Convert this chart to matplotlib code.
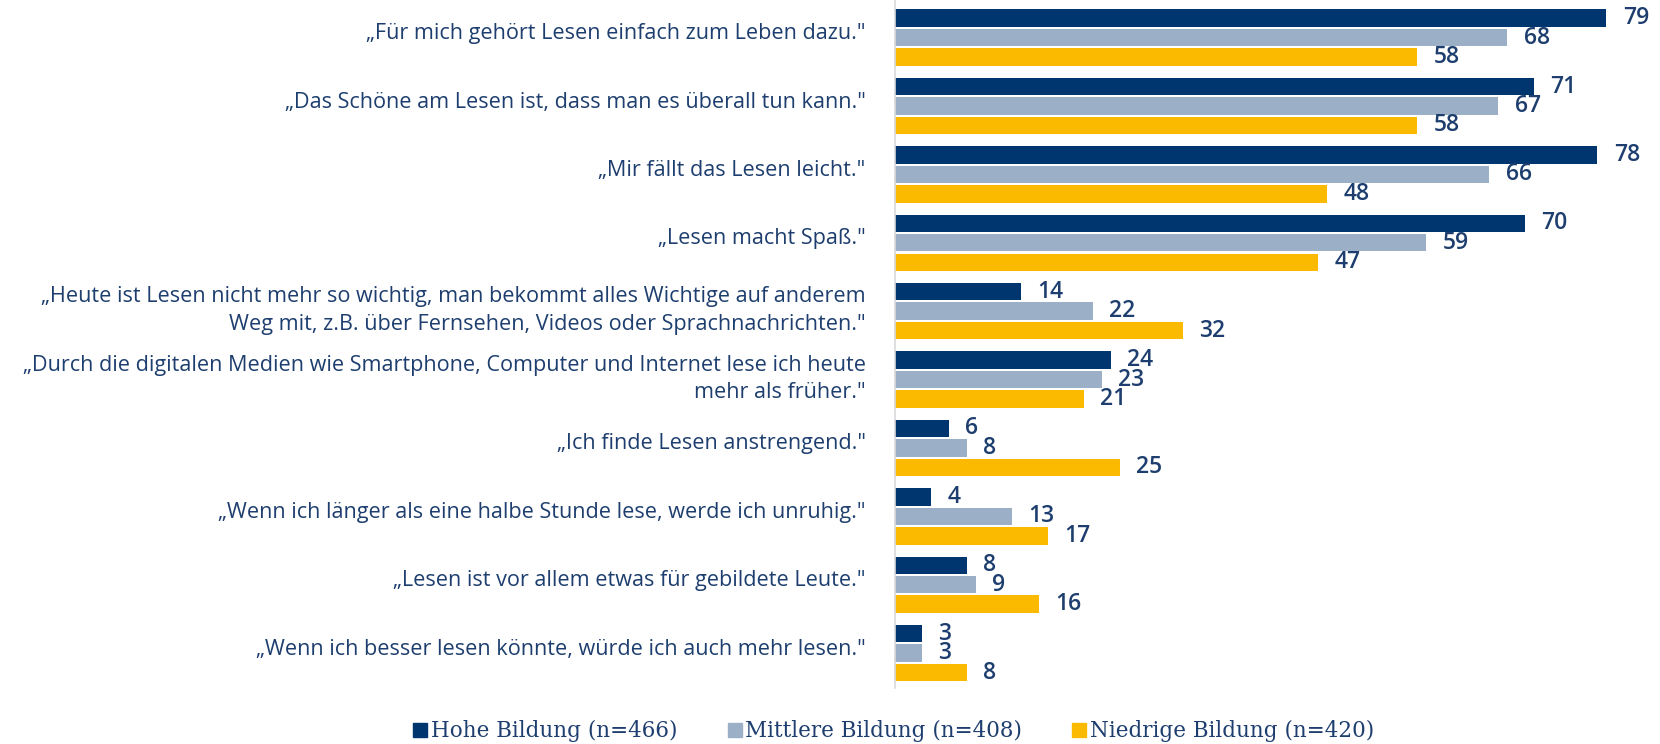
import matplotlib.pyplot as plt
import matplotlib.transforms as mtransforms
import numpy as np
from matplotlib.lines import Line2D

# Aussagen (Kategorien) und Werte in Prozent
statements = [
    "„Für mich gehört Lesen einfach zum Leben dazu.\"",
    "„Das Schöne am Lesen ist, dass man es überall tun kann.\"",
    "„Mir fällt das Lesen leicht.\"",
    "„Lesen macht Spaß.\"",
    "„Heute ist Lesen nicht mehr so wichtig, man bekommt alles Wichtige auf anderem\nWeg mit, z.B. über Fernsehen, Videos oder Sprachnachrichten.\"",
    "„Durch die digitalen Medien wie Smartphone, Computer und Internet lese ich heute\nmehr als früher.\"",
    "„Ich finde Lesen anstrengend.\"",
    "„Wenn ich länger als eine halbe Stunde lese, werde ich unruhig.\"",
    "„Lesen ist vor allem etwas für gebildete Leute.\"",
    "„Wenn ich besser lesen könnte, würde ich auch mehr lesen.\"",
]
hohe = [79, 71, 78, 70, 14, 24, 6, 4, 8, 3]
mittlere = [68, 67, 66, 59, 22, 23, 8, 13, 9, 3]
niedrige = [58, 58, 48, 47, 32, 21, 25, 17, 16, 8]
series_names = ["Hohe Bildung (n=466)", "Mittlere Bildung (n=408)", "Niedrige Bildung (n=420)"]

colors = ["#003670", "#9bafc7", "#fbba00"]
text_col = "#1d3e6e"

fig = plt.figure(figsize=(16.6, 7.44), dpi=100)
ax = fig.add_axes([0.539, 0.0753, 0.461, 0.9247])

y = np.arange(len(statements))
step = 0.285
h = 0.255
for k, (vals, c) in enumerate(zip([hohe, mittlere, niedrige], colors)):
    pos = y + (k - 1) * step
    ax.barh(pos, vals, height=h, color=c)
    for p, v in zip(pos, vals):
        ax.annotate(str(v), (v, p), xytext=(12, 0), textcoords="offset points",
                    va="center", ha="left", fontsize=16.5, color=text_col,
                    family="Open Sans", fontweight="semibold")

ax.set_xlim(0, 85)
ax.set_ylim(9.51, -0.55)
ax.set_yticks(y)
ax.set_yticklabels(statements, fontsize=15.6, color=text_col, family="Open Sans",
                   linespacing=1.4)
ax.tick_params(axis="y", length=0, pad=21)
# labels sit a little above the group centre
shift = mtransforms.ScaledTranslation(0, 6.5 / 100, fig.dpi_scale_trans)
for lbl in ax.get_yticklabels():
    lbl.set_transform(lbl.get_transform() + shift)
ax.set_xticks([])
for s in ["top", "right", "bottom"]:
    ax.spines[s].set_visible(False)
ax.spines["left"].set_color("#d9d9d9")
ax.spines["left"].set_linewidth(1.2)

handles = [Line2D([], [], marker="s", linestyle="none", markersize=9.5,
                  markerfacecolor=c, markeredgecolor=c) for c in colors]
fig.legend(handles, series_names, loc="center", bbox_to_anchor=(0.539, 0.017),
           ncol=3, frameon=False, handlelength=0.5, handletextpad=0.25,
           columnspacing=2.4, prop={"family": "DejaVu Serif", "size": 15.5},
           labelcolor=text_col)

fig.savefig("out.png", dpi=100)
